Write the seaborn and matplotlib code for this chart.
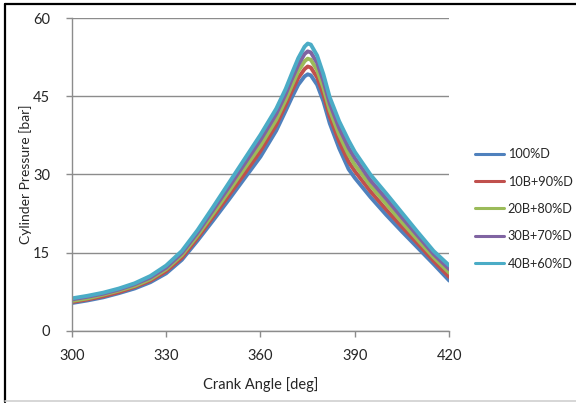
import matplotlib
matplotlib.use("Agg")
import matplotlib.pyplot as plt
import seaborn as sns
import pandas as pd
from matplotlib.lines import Line2D

# Crank angle positions (deg)
crank_angle = [300, 305, 310, 315, 320, 325, 330, 335, 340, 345, 350, 355, 360,
               365, 368, 370, 372, 374, 375, 376, 378, 380, 382, 385, 388, 390,
               395, 400, 405, 410, 415, 420]

# Cylinder pressure (bar) for each fuel blend
p_100D = [5.3, 5.8, 6.4, 7.2, 8.1, 9.3, 11.0, 13.6, 17.3, 21.2, 25.2, 29.3, 33.4,
          38.4, 42.2, 44.8, 47.2, 48.8, 49.2, 49.0, 47.2, 44.0, 39.8, 35.0, 31.0, 29.3,
          25.6, 22.2, 19.0, 15.9, 12.8, 9.6]
p_10B90D = [5.5, 6.0, 6.6, 7.4, 8.4, 9.6, 11.4, 14.0, 17.8, 21.9, 26.0, 30.2, 34.5,
            39.5, 43.3, 46.0, 48.5, 50.2, 50.7, 50.5, 48.6, 45.3, 41.1, 36.3, 32.4, 30.6,
            26.7, 23.2, 19.9, 16.7, 13.4, 10.3]
p_20B80D = [5.7, 6.2, 6.9, 7.7, 8.6, 9.9, 11.8, 14.5, 18.3, 22.5, 26.8, 31.2, 35.5,
            40.5, 44.3, 47.1, 49.8, 51.7, 52.2, 52.0, 50.0, 46.6, 42.3, 37.6, 33.8, 31.8,
            27.8, 24.3, 20.8, 17.4, 14.1, 11.1]
p_30B70D = [6.0, 6.5, 7.1, 7.9, 8.9, 10.2, 12.1, 14.9, 18.8, 23.2, 27.6, 32.1, 36.6,
            41.6, 45.4, 48.3, 51.0, 53.1, 53.6, 53.4, 51.4, 47.9, 43.6, 38.9, 35.1, 33.1,
            28.8, 25.3, 21.7, 18.2, 14.7, 11.8]
p_40B60D = [6.2, 6.7, 7.3, 8.1, 9.1, 10.5, 12.5, 15.3, 19.3, 23.8, 28.4, 33.0, 37.6,
            42.6, 46.4, 49.4, 52.3, 54.5, 55.1, 54.9, 52.8, 49.2, 44.8, 40.2, 36.5, 34.3,
            29.9, 26.3, 22.6, 18.9, 15.3, 12.5]

blend_labels = ["100%D", "10B+90%D", "20B+80%D", "30B+70%D", "40B+60%D"]
blend_colors = ["#4F81BD", "#C0504D", "#9BBB59", "#8064A2", "#4BACC6"]

x_ticks = [300, 330, 360, 390, 420]
y_ticks = [0, 15, 30, 45, 60]

series = [p_100D, p_10B90D, p_20B80D, p_30B70D, p_40B60D]
frames = [pd.DataFrame({"angle": crank_angle, "pressure": vals, "blend": name})
          for name, vals in zip(blend_labels, series)]
df = pd.concat(frames, ignore_index=True)

sns.set_theme(style="white")
plt.rcParams["font.family"] = ["Lato", "DejaVu Sans"]

fig = plt.figure(figsize=(5.76, 4.03), dpi=100)
ax = fig.add_axes([0.1245, 0.1794, 0.6555, 0.7759])

sns.lineplot(data=df, x="angle", y="pressure", hue="blend", hue_order=blend_labels,
             palette=blend_colors, linewidth=2.8, ax=ax, legend=False, sort=False)

grid_col = "#8C8C8C"
ax.set_xlim(300, 420)
ax.set_ylim(0, 60)
ax.set_xticks(x_ticks)
ax.set_yticks(y_ticks)
ax.yaxis.grid(True, color=grid_col, linewidth=1.0)
ax.xaxis.grid(False)
ax.set_axisbelow(True)
for side in ("top", "right"):
    ax.spines[side].set_visible(False)
for side in ("left", "bottom"):
    ax.spines[side].set_color(grid_col)
    ax.spines[side].set_linewidth(1.0)
ax.tick_params(axis="y", which="major", direction="out", length=4.5, width=1.0,
               color=grid_col, pad=11, labelsize=10.5, labelcolor="#262626", left=True)
ax.tick_params(axis="x", which="major", direction="out", length=4.5, width=1.0,
               color=grid_col, pad=9, labelsize=10.5, labelcolor="#262626", bottom=True)

ax.set_xlabel("Crank Angle [deg]", fontsize=10.5, color="#262626", labelpad=10)
ax.set_ylabel("Cylinder Pressure [bar]", fontsize=10, color="#262626", labelpad=1)

handles = [Line2D([0], [0], color=c, linewidth=2.2) for c in blend_colors]
fig.legend(handles, blend_labels, loc="upper left", bbox_to_anchor=(0.815, 0.645),
           frameon=False, fontsize=9.2, handlelength=2.3, handletextpad=0.3,
           labelspacing=1.2, borderaxespad=0)

# Outer frame of the chart area
fig.add_artist(Line2D([0.009, 1.0], [0.989, 0.989], transform=fig.transFigure,
                      color="black", linewidth=1.6))
fig.add_artist(Line2D([0.009, 0.009], [0.003, 0.989], transform=fig.transFigure,
                      color="black", linewidth=1.6))
fig.add_artist(Line2D([0.009, 1.0], [0.004, 0.004], transform=fig.transFigure,
                      color="#D0D0D0", linewidth=1.2))

fig.savefig("out.png", dpi=100, facecolor="white")
